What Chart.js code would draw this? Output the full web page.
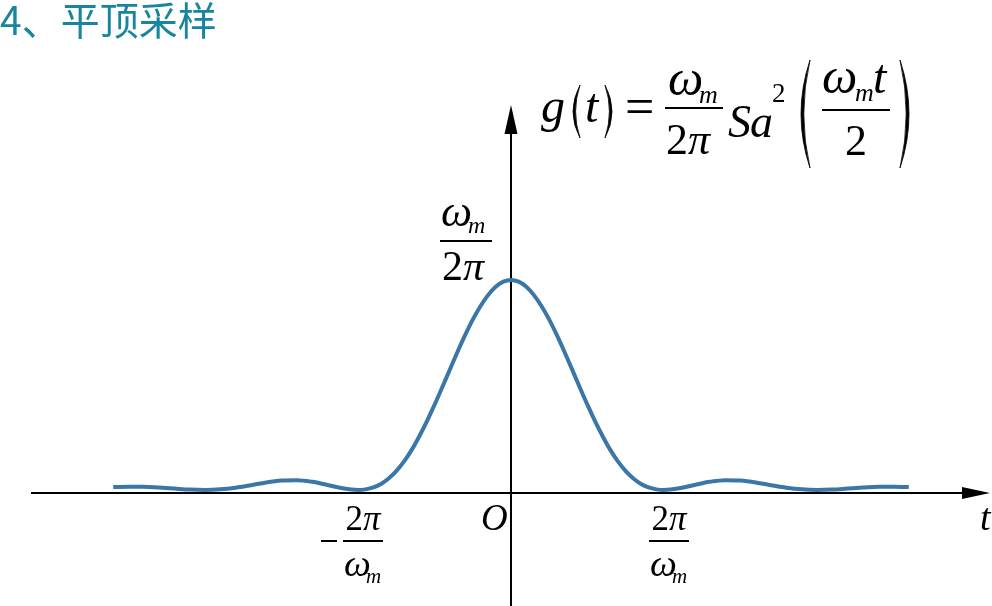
<!DOCTYPE html>
<html>
<head>
<meta charset="utf-8">
<script src="https://cdn.jsdelivr.net/npm/chart.js@4.4.0/dist/chart.umd.min.js"></script>
<style>
  html, body { margin: 0; padding: 0; background: #fff; }
  #wrap { position: relative; width: 992px; height: 606px; }
</style>
</head>
<body>
<div id="wrap"><canvas id="sampleChart"></canvas></div>
<script>
// t in units of 2π/ωm, g(t) relative to its peak ωm/2π
var tValues = [-2.6, -2.5, -2.4, -2.3, -2.2, -2.1, -2.0, -1.9, -1.8, -1.7, -1.6, -1.5, -1.4,
               -1.3, -1.2, -1.1, -1.0, -0.95, -0.9, -0.85, -0.8, -0.75, -0.7, -0.65, -0.6, -0.55,
               -0.5, -0.45, -0.4, -0.35, -0.3, -0.25, -0.2, -0.15, -0.1, -0.05,
               0, 0.05, 0.1, 0.15, 0.2, 0.25, 0.3, 0.35, 0.4, 0.45, 0.5, 0.55, 0.6, 0.65,
               0.7, 0.75, 0.8, 0.85, 0.9, 0.95, 1.0, 1.1, 1.2, 1.3, 1.4, 1.5,
               1.6, 1.7, 1.8, 1.9, 2.0, 2.1, 2.2, 2.3, 2.4, 2.5, 2.6];
var gValues = [0.014, 0.016, 0.016, 0.012, 0.007, 0.002, 0, 0.003, 0.011, 0.023, 0.036, 0.045, 0.047,
               0.039, 0.024, 0.008, 0, 0.003, 0.012, 0.029, 0.055, 0.090, 0.135, 0.190, 0.255, 0.327,
               0.405, 0.488, 0.573, 0.657, 0.737, 0.811, 0.875, 0.928, 0.968, 0.992,
               1.000, 0.992, 0.968, 0.928, 0.875, 0.811, 0.737, 0.657, 0.573, 0.488, 0.405, 0.327, 0.255, 0.190,
               0.135, 0.090, 0.055, 0.029, 0.012, 0.003, 0, 0.008, 0.024, 0.039, 0.047, 0.045,
               0.036, 0.023, 0.011, 0.003, 0, 0.002, 0.007, 0.012, 0.016, 0.016, 0.014];
var tickMarks = [-1, 1];   // ±2π/ωm

var SERIF = '"Liberation Serif", "DejaVu Serif", serif';

function txt(ctx, s, x, y, size, italic, align) {
    ctx.font = (italic ? 'italic ' : '') + size + 'px ' + SERIF;
    ctx.textAlign = align || 'left';
    ctx.textBaseline = 'alphabetic';
    ctx.fillText(s, x, y);
    return ctx.measureText(s).width;
}
function bar(ctx, x1, x2, y) {
    ctx.beginPath();
    ctx.moveTo(x1, y);
    ctx.lineTo(x2, y);
    ctx.stroke();
}
// crescent-shaped parenthesis; dir = -1 for '(' and 1 for ')'
function paren(ctx, x, top, bottom, bulge, thick, dir) {
    var mid = (top + bottom) / 2;
    ctx.beginPath();
    ctx.moveTo(x, top);
    ctx.quadraticCurveTo(x + dir * bulge * 2, mid, x, bottom);
    ctx.quadraticCurveTo(x + dir * (bulge * 2 - thick * 2), mid, x, top);
    ctx.closePath();
    ctx.fill();
    ctx.lineWidth = 0.8;
    ctx.stroke();
    ctx.lineWidth = 2;
}

var axesPlugin = {
    id: 'axesPlugin',
    beforeDatasetsDraw: function(chart) {
        var ctx = chart.ctx;
        var xs = chart.scales.x, ys = chart.scales.y;
        var x0 = xs.getPixelForValue(0);
        var y0 = ys.getPixelForValue(0) + 3;
        ctx.save();
        ctx.strokeStyle = '#000';
        ctx.fillStyle = '#000';
        ctx.lineWidth = 2;
        // horizontal axis
        ctx.beginPath();
        ctx.moveTo(31, y0);
        ctx.lineTo(964, y0);
        ctx.stroke();
        ctx.beginPath();
        ctx.moveTo(990, y0);
        ctx.lineTo(962, y0 - 6);
        ctx.lineTo(962, y0 + 6);
        ctx.closePath();
        ctx.fill();
        // vertical axis
        ctx.beginPath();
        ctx.moveTo(x0, 606);
        ctx.lineTo(x0, 132);
        ctx.stroke();
        ctx.beginPath();
        ctx.moveTo(x0, 105);
        ctx.lineTo(x0 - 6.5, 134);
        ctx.lineTo(x0 + 6.5, 134);
        ctx.closePath();
        ctx.fill();
        ctx.restore();
    },
    afterDraw: function(chart) {
        var ctx = chart.ctx;
        var xs = chart.scales.x;
        ctx.save();
        ctx.fillStyle = '#000';
        ctx.strokeStyle = '#000';
        ctx.lineWidth = 2;

        // title
        ctx.fillStyle = '#17869d';
        ctx.font = '39px "Noto Sans CJK SC", "Noto Sans", sans-serif';
        ctx.textAlign = 'left';
        ctx.textBaseline = 'alphabetic';
        ctx.fillText('4、平顶采样', 0, 35);
        ctx.fillStyle = '#000';

        // formula g(t) = ωm/2π Sa²(ωm t / 2)
        txt(ctx, 'g', 541, 122, 48, true);
        paren(ctx, 580, 85, 138, 7, 2.6, -1);
        txt(ctx, 't', 585, 122, 48, true);
        paren(ctx, 605, 85, 138, 7, 2.6, 1);
        txt(ctx, '=', 625, 124, 52, false);
        txt(ctx, 'ω', 668, 95, 50, true);
        txt(ctx, 'm', 699, 103, 26, true);
        bar(ctx, 665, 723, 108);
        var w2 = txt(ctx, '2', 666, 154, 44, false);
        txt(ctx, 'π', 666 + w2, 154, 44, true);
        var wS = txt(ctx, 'S', 728, 137, 46, true);
        var wa = txt(ctx, 'a', 728 + wS - 1, 137, 46, true);
        txt(ctx, '2', 728 + wS + wa - 2, 102, 27, false);
        paren(ctx, 810, 60, 168, 9, 2.8, -1);
        txt(ctx, 'ω', 822, 93, 50, true);
        txt(ctx, 'm', 855, 101, 26, true);
        txt(ctx, 't', 873, 93, 48, true);
        bar(ctx, 822, 890, 110);
        txt(ctx, '2', 856, 155, 44, false, 'center');
        paren(ctx, 900, 60, 168, 9, 2.8, 1);

        // peak label ωm / 2π
        txt(ctx, 'ω', 441, 226, 44, true);
        txt(ctx, 'm', 468, 233, 24, true);
        bar(ctx, 440, 492, 241);
        var w2b = txt(ctx, '2', 442, 280, 42, false);
        txt(ctx, 'π', 442 + w2b, 280, 42, true);

        // ±2π/ωm labels
        tickMarks.forEach(function(v) {
            var cx = xs.getPixelForValue(v) + 5;
            ctx.font = '35px ' + SERIF;
            var a = ctx.measureText('2').width;
            ctx.font = 'italic 35px ' + SERIF;
            var b = ctx.measureText('π').width;
            var start = cx - (a + b) / 2;
            txt(ctx, '2', start, 530, 35, false);
            txt(ctx, 'π', start + a, 530, 35, true);
            bar(ctx, cx - 20, cx + 20, 541);
            txt(ctx, 'ω', cx - 19, 576, 38, true);
            txt(ctx, 'm', cx + 3, 583, 21, true);
            if (v < 0) {
                bar(ctx, cx - 42, cx - 26, 541);
            }
        });

        // origin and axis name
        txt(ctx, 'O', 481, 530, 37, true);
        txt(ctx, 't', 980, 530, 38, true);
        ctx.restore();
    }
};

var ctx = document.getElementById('sampleChart').getContext('2d');
var chart = new Chart(ctx, {
    type: 'line',
    data: {
        datasets: [{
            data: tValues.map(function(t, i) { return { x: t, y: gValues[i] }; }),
            borderColor: '#3a76a6',
            borderWidth: 4,
            pointRadius: 0,
            fill: false,
            cubicInterpolationMode: 'monotone'
        }]
    },
    options: {
        responsive: true,
        maintainAspectRatio: false,
        animation: false,
        layout: { padding: 0 },
        plugins: {
            legend: { display: false },
            tooltip: { enabled: false }
        },
        scales: {
            x: { type: 'linear', min: -3.34, max: 3.144, display: false },
            y: { min: -0.5524, max: 2.3333, display: false }
        }
    },
    plugins: [axesPlugin]
});
</script>
</body>
</html>
